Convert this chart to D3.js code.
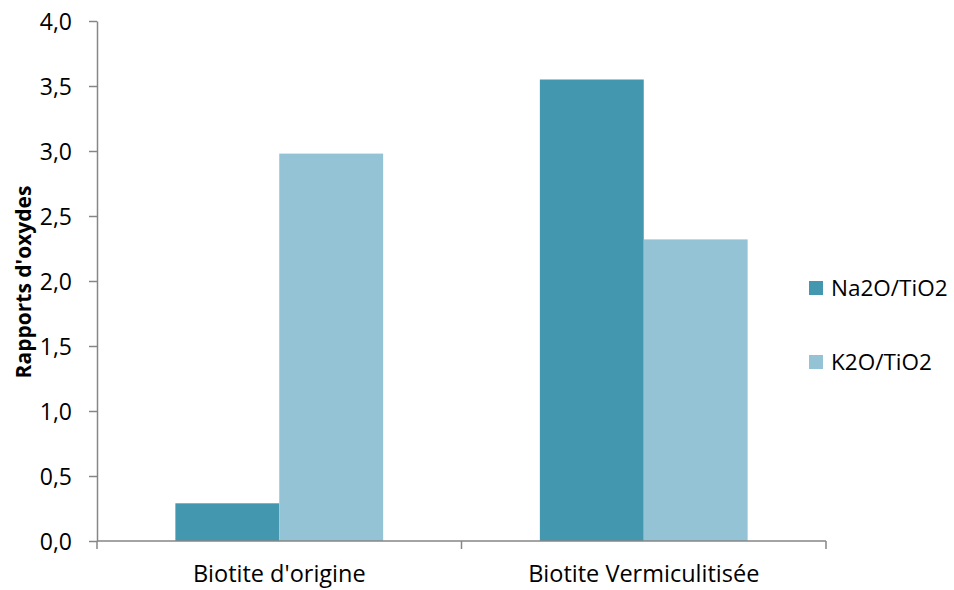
<!DOCTYPE html>
<html><head><meta charset="utf-8">
<script src="https://cdn.jsdelivr.net/npm/d3@7"></script>
<style>body{margin:0;background:#fff}svg{display:block}text{font-family:"Open Sans",sans-serif;fill:#000}</style>
</head><body>
<svg id="c" width="954" height="590"></svg>
<script>
const categories = ["Biotite d'origine", "Biotite Vermiculitisée"];
const seriesNames = ["Na2O/TiO2", "K2O/TiO2"];
const na2o = [0.29, 3.55];
const k2o = [2.98, 2.32];
const yTicks = [0, 0.5, 1.0, 1.5, 2.0, 2.5, 3.0, 3.5, 4.0];
const colors = ["#4398B0", "#93C3D4"];
const yTitle = "Rapports d'oxydes";

const svg = d3.select("#c");
const m = {left: 97, right: 826, top: 21, bottom: 541};
const y = d3.scaleLinear().domain([0, 4]).range([m.bottom, m.top]);
const x0 = d3.scaleBand().domain(categories).range([m.left, m.right]).paddingInner(0.43).paddingOuter(0.215);
const x1 = d3.scaleBand().domain(seriesNames).range([0, x0.bandwidth()]);
const fmt = d => d.toFixed(1).replace(".", ",");
const series = [na2o, k2o];

// bars
categories.forEach((c, i) => {
  seriesNames.forEach((s, j) => {
    svg.append("rect")
      .attr("x", x0(c) + x1(s))
      .attr("width", x1.bandwidth())
      .attr("y", y(series[j][i]))
      .attr("height", y(0) - y(series[j][i]))
      .attr("fill", colors[j]);
  });
});

// y axis
const ya = svg.append("g").attr("transform", `translate(${m.left},0)`)
  .call(d3.axisLeft(y).tickValues(yTicks).tickFormat(fmt).tickSize(8).tickPadding(17).tickSizeOuter(0));
ya.select(".domain").attr("stroke", "#868686").attr("stroke-width", 1.5);
ya.selectAll(".tick line").attr("stroke", "#868686").attr("stroke-width", 1.5);
ya.selectAll(".tick text").style("font-size", "23px").attr("fill", "#000").attr("dy", "0.35em");

// x axis
const xa = svg.append("g").attr("transform", `translate(0,${m.bottom})`);
xa.append("line").attr("x1", m.left).attr("x2", m.right).attr("stroke", "#868686").attr("stroke-width", 1.5);
const bounds = [m.left, (x0(categories[0]) + x0.bandwidth() + x0(categories[1])) / 2, m.right];
bounds.forEach(b => xa.append("line").attr("x1", b).attr("x2", b).attr("y1", 0).attr("y2", 8).attr("stroke", "#868686").attr("stroke-width", 1.5));
categories.forEach(c => xa.append("text").attr("x", x0(c) + x0.bandwidth() / 2).attr("y", 41)
  .attr("text-anchor", "middle").style("font-size", "23.5px").text(c));

// y title
svg.append("text").attr("transform", "translate(31,282) rotate(-90)").attr("text-anchor", "middle")
  .style("font-size", "21px").style("font-weight", "bold").text(yTitle);

// legend
seriesNames.forEach((s, j) => {
  const ly = 281 + j * 74;
  svg.append("rect").attr("x", 809).attr("y", ly).attr("width", 14).attr("height", 14).attr("fill", colors[j]);
  svg.append("text").attr("x", 831).attr("y", ly + 15).style("font-size", "22.5px").text(s);
});
</script>
</body></html>
